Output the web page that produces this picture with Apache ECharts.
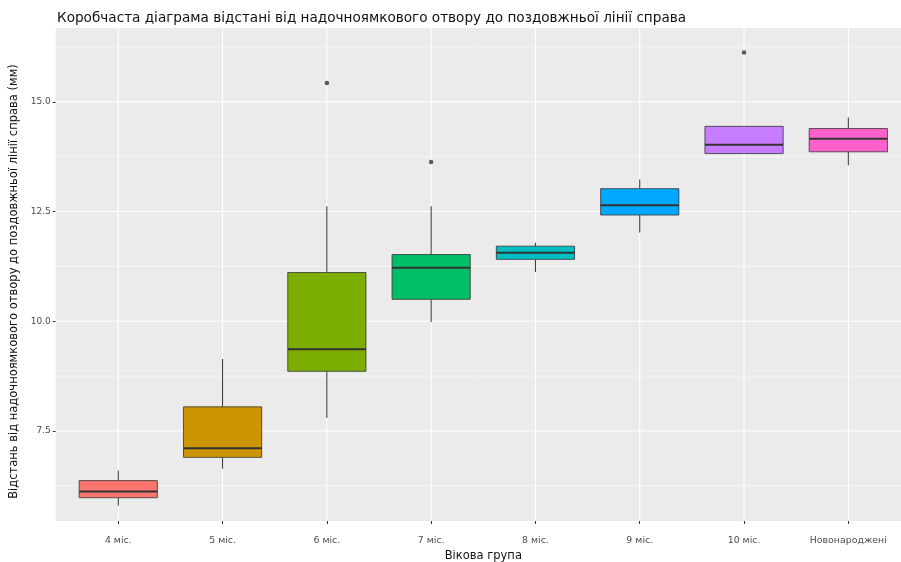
<!DOCTYPE html>
<html>
<head>
<meta charset="utf-8">
<script src="https://cdn.jsdelivr.net/npm/echarts@6/dist/echarts.min.js"></script>
<style>
html,body{margin:0;padding:0;background:#fff;}
#chart{width:901px;height:562px;}
</style>
</head>
<body>
<div id="chart"></div>
<script>
// ---- data ----
const categories = ['4 міс.','5 міс.','6 міс.','7 міс.','8 міс.','9 міс.','10 міс.','Новонароджені'];
const lowerWhisker = [5.80, 6.64, 7.80, 9.98, 11.12, 12.02, 13.82, 13.55];
const q1Values     = [5.98, 6.90, 8.86, 10.50, 11.41, 12.42, 13.82, 13.86];
const medianValues = [6.12, 7.11, 9.36, 11.22, 11.56, 12.64, 14.02, 14.16];
const q3Values     = [6.37, 8.05, 11.11, 11.52, 11.71, 13.02, 14.44, 14.39];
const upperWhisker = [6.60, 9.14, 12.62, 12.62, 11.79, 13.23, 14.44, 14.64];
const outlierGroups = [2, 3, 6];
const outlierValues = [15.43, 13.63, 16.12];
const yTicks = [7.5, 10.0, 12.5, 15.0];
const yMinorTicks = [6.25, 8.75, 11.25, 13.75, 16.25];

const fillColors = ['#F8766D','#CD9600','#7CAE00','#00BE67','#00BFC4','#00A9FF','#C77CFF','#FF61CC'];
const FONT = '"DejaVu Sans", sans-serif';

const xIdx = categories.map((c, i) => i);
const boxData = categories.map((c, i) => [i, lowerWhisker[i], q1Values[i], medianValues[i], q3Values[i], upperWhisker[i]]);
const outlierData = outlierGroups.map((g, i) => [g, outlierValues[i]]);
const gridData = [];
yTicks.forEach(v => gridData.push(['h', v, 1]));
yMinorTicks.forEach(v => gridData.push(['h', v, 0]));
xIdx.forEach(v => gridData.push(['v', v, 1]));

const chart = echarts.init(document.getElementById('chart'), null, {renderer: 'canvas'});
chart.setOption({
  animation: false,
  backgroundColor: '#ffffff',
  title: {
    text: 'Коробчаста діаграма відстані від надочноямкового отвору до поздовжньої лінії справа',
    left: 52, top: 6,
    textStyle: {fontFamily: FONT, fontSize: 13.6, fontWeight: 'normal', color: '#111'}
  },
  grid: {
    left: 55.7, top: 28, width: 855.2, bottom: 41,
    outerBoundsMode: 'none',
    show: true, backgroundColor: '#EBEBEB', borderWidth: 0, containLabel: false
  },
  xAxis: {
    type: 'value', min: -0.6, max: 7.6,
    name: 'Вікова група', nameLocation: 'middle', nameGap: 28,
    nameTextStyle: {fontFamily: FONT, fontSize: 11.5, color: '#111'},
    axisLine: {show: false, onZero: false},
    axisTick: {show: true, length: 3, lineStyle: {color: '#333333', width: 1}, customValues: xIdx},
    axisLabel: {fontFamily: FONT, fontSize: 9.4, color: '#4D4D4D', margin: 15.5, customValues: xIdx,
      formatter: v => categories[Math.round(v)]},
    splitLine: {show: false}
  },
  yAxis: {
    type: 'value', min: 5.45, max: 16.68,
    name: 'Відстань від надочноямкового отвору до поздовжньої лінії справа (мм)',
    nameLocation: 'middle', nameGap: 31,
    nameTextStyle: {fontFamily: FONT, fontSize: 11.5, color: '#111', padding: [0, 14, 0, 0]},
    axisLine: {show: false, onZero: false},
    axisTick: {show: true, length: 3, lineStyle: {color: '#333333', width: 1}, customValues: yTicks},
    axisLabel: {fontFamily: FONT, fontSize: 9, color: '#4D4D4D', margin: 5, customValues: yTicks,
      formatter: v => v.toFixed(1)},
    splitLine: {show: false}
  },
  series: [
    {
      type: 'custom', z: 1, silent: true,
      data: gridData,
      encode: {x: 1, y: 1},
      renderItem: function (params, api) {
        const cs = params.coordSys;
        const kind = gridData[params.dataIndex][0];
        const v = gridData[params.dataIndex][1];
        const major = gridData[params.dataIndex][2] === 1;
        if (kind === 'h') {
          const y = api.coord([0, v])[1];
          return {type: 'line', shape: {x1: cs.x, y1: y, x2: cs.x + cs.width, y2: y},
            style: {stroke: '#FFFFFF', lineWidth: major ? 1.1 : 0.55}};
        } else {
          const x = api.coord([v, 10])[0];
          return {type: 'line', shape: {x1: x, y1: cs.y, x2: x, y2: cs.y + cs.height},
            style: {stroke: '#FFFFFF', lineWidth: 1.1}};
        }
      }
    },
    {
      type: 'custom', z: 3,
      data: boxData,
      encode: {x: 0, y: [1, 2, 3, 4, 5]},
      renderItem: function (params, api) {
        const i = api.value(0);
        const lo = api.coord([i, api.value(1)]);
        const q1 = api.coord([i, api.value(2)]);
        const md = api.coord([i, api.value(3)]);
        const q3 = api.coord([i, api.value(4)]);
        const hi = api.coord([i, api.value(5)]);
        const w = api.size([0.75, 0])[0];
        const cx = md[0];
        return {
          type: 'group',
          children: [
            {type: 'line', shape: {x1: cx, y1: hi[1], x2: cx, y2: q3[1]}, style: {stroke: '#333333', lineWidth: 1}},
            {type: 'line', shape: {x1: cx, y1: q1[1], x2: cx, y2: lo[1]}, style: {stroke: '#333333', lineWidth: 1}},
            {type: 'rect', shape: {x: cx - w / 2, y: q3[1], width: w, height: q1[1] - q3[1]},
              style: {fill: fillColors[params.dataIndex], stroke: '#333333', lineWidth: 0.8}},
            {type: 'line', shape: {x1: cx - w / 2, y1: md[1], x2: cx + w / 2, y2: md[1]}, style: {stroke: '#333333', lineWidth: 2}}
          ]
        };
      }
    },
    {
      type: 'scatter', z: 4,
      data: outlierData,
      symbol: 'circle', symbolSize: 4.5,
      itemStyle: {color: '#333333'}
    }
  ]
});
</script>
</body>
</html>
